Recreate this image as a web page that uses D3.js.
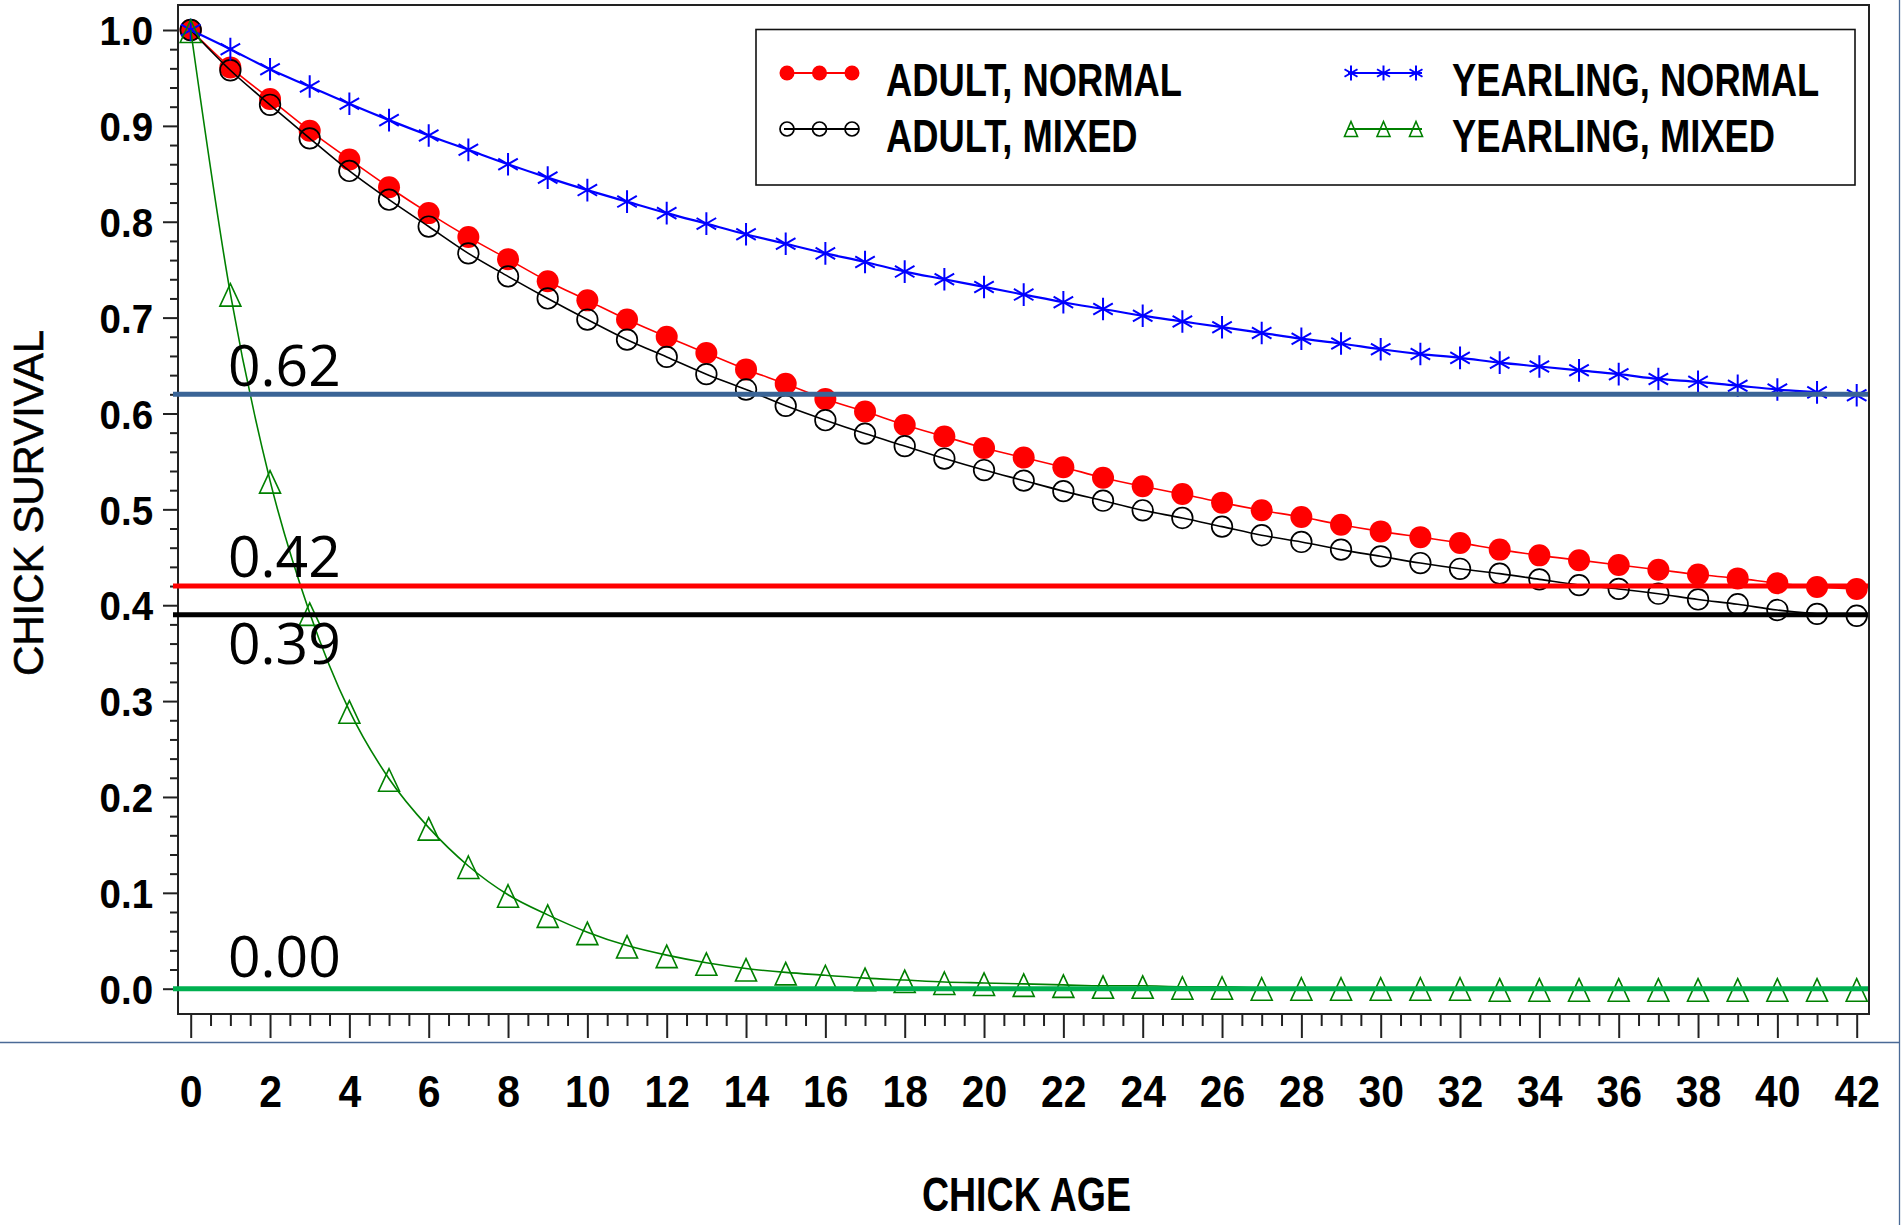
<!DOCTYPE html>
<html>
<head>
<meta charset="utf-8">
<script src="https://cdn.jsdelivr.net/npm/d3@7"></script>
<style>
  html, body { margin: 0; padding: 0; background: #ffffff; }
  svg { display: block; }
</style>
</head>
<body>
<svg id="chart" width="1902" height="1225"></svg>
<script>
// ---- data -------------------------------------------------------------
const ages = [0, 1, 2, 3, 4, 5, 6, 7, 8, 9, 10, 11, 12, 13, 14, 15, 16, 17, 18, 19, 20,
              21, 22, 23, 24, 25, 26, 27, 28, 29, 30, 31, 32, 33, 34, 35, 36, 37, 38, 39, 40, 41, 42];

const adultNormal = [1.000, 0.961, 0.928, 0.895, 0.865, 0.836, 0.809, 0.784, 0.761, 0.738, 0.718,
                     0.698, 0.680, 0.663, 0.646, 0.631, 0.615, 0.602, 0.588, 0.576, 0.564,
                     0.554, 0.544, 0.533, 0.524, 0.516, 0.507, 0.499, 0.492, 0.484, 0.477,
                     0.471, 0.465, 0.458, 0.452, 0.447, 0.442, 0.437, 0.432, 0.428, 0.423, 0.419, 0.417];

const adultMixed = [1.000, 0.958, 0.922, 0.887, 0.853, 0.823, 0.795, 0.767, 0.743, 0.720, 0.698,
                    0.677, 0.659, 0.641, 0.625, 0.608, 0.593, 0.579, 0.566, 0.553, 0.541,
                    0.530, 0.519, 0.509, 0.499, 0.491, 0.482, 0.473, 0.466, 0.458, 0.451,
                    0.444, 0.438, 0.433, 0.427, 0.421, 0.417, 0.412, 0.406, 0.401, 0.395, 0.391, 0.389];

const yearlingNormal = [1.000, 0.980, 0.959, 0.941, 0.923, 0.906, 0.890, 0.875, 0.860, 0.846, 0.833,
                        0.821, 0.809, 0.798, 0.787, 0.777, 0.767, 0.758, 0.748, 0.740, 0.732,
                        0.724, 0.716, 0.709, 0.702, 0.696, 0.690, 0.684, 0.678, 0.673, 0.667,
                        0.662, 0.658, 0.653, 0.649, 0.645, 0.641, 0.636, 0.633, 0.629, 0.625, 0.622, 0.619];

const yearlingMixed = [1.000, 0.725, 0.530, 0.392, 0.290, 0.219, 0.168, 0.128, 0.098, 0.077, 0.059,
                       0.045, 0.035, 0.027, 0.021, 0.017, 0.014, 0.011, 0.009, 0.007, 0.006,
                       0.005, 0.004, 0.003, 0.003, 0.002, 0.002, 0.001, 0.001, 0.001, 0.001,
                       0.001, 0.001, 0.000, 0.000, 0.000, 0.000, 0.000, 0.000, 0.000, 0.000, 0.000, 0.000];

const seriesNames = ["ADULT, NORMAL", "ADULT, MIXED", "YEARLING, NORMAL", "YEARLING, MIXED"];

const yMajorTicks = [0.0, 0.1, 0.2, 0.3, 0.4, 0.5, 0.6, 0.7, 0.8, 0.9, 1.0];
const xMajorTicks = [0, 2, 4, 6, 8, 10, 12, 14, 16, 18, 20, 22, 24, 26, 28, 30, 32, 34, 36, 38, 40, 42];

// final-age survival reference levels and their printed labels
const refValues = [0.62, 0.42, 0.39, 0.00];
const refLabels = ["0.62", "0.42", "0.39", "0.00"];

const xTitle = "CHICK AGE";
const yTitle = "CHICK SURVIVAL";

// ---- layout & styles ----------------------------------------------------
const frame = { left: 178, right: 1869, top: 5, bottom: 1014 };
const boldFont = "'Liberation Sans', Arial, Helvetica, sans-serif";

const seriesStyles = [
  { color: "#ff0000", width: 1.6, marker: "dot" },
  { color: "#000000", width: 1.6, marker: "circle" },
  { color: "#0000ff", width: 2.2, marker: "star" },
  { color: "#008000", width: 1.6, marker: "triangle" }
];
const refStyles = [
  { color: "#3a6496", labelDy: -8 },
  { color: "#ff0000", labelDy: -9 },
  { color: "#000000", labelDy: 49 },
  { color: "#00b050", labelDy: -12 }
];

const svg = d3.select("#chart");

const x = d3.scaleLinear().domain([0, 42]).range([190.7, 1856.7]);
const y = d3.scaleLinear().domain([0, 1]).range([988.7, 30]);

// ---- axes ---------------------------------------------------------------
function condensed(sel, sx) {
  sel.attr("transform", `scale(${sx},1)`);
}

// y axis: majors every 0.1, minors every 0.02
const yMinor = d3.range(0, 1.0001, 0.02).filter(v => Math.abs(v * 10 - Math.round(v * 10)) > 1e-6);
svg.append("g")
  .attr("transform", `translate(${frame.left},0)`)
  .call(d3.axisLeft(y).tickValues(yMinor).tickSize(8).tickFormat(""))
  .call(g => g.select(".domain").remove())
  .call(g => g.selectAll("line").attr("stroke", "#222").attr("stroke-width", 2));

const yAxisG = svg.append("g")
  .attr("transform", `translate(${frame.left},0)`)
  .call(d3.axisLeft(y).tickValues(yMajorTicks).tickSize(15).tickFormat(d3.format(".1f")))
  .call(g => g.select(".domain").remove())
  .call(g => g.selectAll("line").attr("stroke", "#222").attr("stroke-width", 2));
yAxisG.selectAll("text")
  .attr("x", -26.5)
  .attr("dy", "0.36em")
  .attr("fill", "#000")
  .style("font-family", boldFont)
  .style("font-weight", "bold")
  .style("font-size", "41px")
  .call(condensed, 0.94);

// x axis: majors every 2, minors every 0.5
const xMinor = d3.range(0, 42.0001, 0.5).filter(v => v % 2 !== 0);
svg.append("g")
  .attr("transform", `translate(0,${frame.bottom})`)
  .call(d3.axisBottom(x).tickValues(xMinor).tickSize(12).tickFormat(""))
  .call(g => g.select(".domain").remove())
  .call(g => g.selectAll("line").attr("stroke", "#222").attr("stroke-width", 2));

const xAxisG = svg.append("g")
  .attr("transform", `translate(0,${frame.bottom})`)
  .call(d3.axisBottom(x).tickValues(xMajorTicks).tickSize(24).tickFormat(d3.format("d")))
  .call(g => g.select(".domain").remove())
  .call(g => g.selectAll("line").attr("stroke", "#222").attr("stroke-width", 2));
xAxisG.selectAll("text")
  .attr("y", 93)
  .attr("dy", 0)
  .attr("fill", "#000")
  .style("font-family", boldFont)
  .style("font-weight", "bold")
  .style("font-size", "44px")
  .call(condensed, 0.93);

// plot frame
svg.append("rect")
  .attr("x", frame.left).attr("y", frame.top)
  .attr("width", frame.right - frame.left).attr("height", frame.bottom - frame.top)
  .attr("fill", "none").attr("stroke", "#222").attr("stroke-width", 2);

// axis titles
svg.append("text")
  .attr("transform", `translate(43,503) rotate(-90)`)
  .attr("text-anchor", "middle")
  .style("font-family", boldFont)
  .style("font-size", "42px")
  .attr("fill", "#000")
  .attr("stroke", "#000")
  .attr("stroke-width", 0.6)
  .text(yTitle);

svg.append("text")
  .attr("transform", `translate(1026.5,1210.5) scale(0.79,1)`)
  .attr("text-anchor", "middle")
  .style("font-family", boldFont)
  .style("font-weight", "bold")
  .style("font-size", "47.5px")
  .attr("fill", "#000")
  .text(xTitle);

// ---- series -------------------------------------------------------------
const seriesData = [adultNormal, adultMixed, yearlingNormal, yearlingMixed];

const c30 = Math.cos(Math.PI / 6), s30 = 0.5;
function starPath(r) {
  return `M0,${-r}L0,${r}M${-r * c30},${-r * s30}L${r * c30},${r * s30}` +
         `M${-r * c30},${r * s30}L${r * c30},${-r * s30}`;
}
function trianglePath(w, up, down) {
  return `M0,${-up}L${w},${down}L${-w},${down}Z`;
}

function drawMarker(sel, kind, color, big) {
  if (kind === "dot") {
    sel.append("circle").attr("r", big ? 11 : 7.5).attr("fill", color);
  } else if (kind === "circle") {
    sel.append("circle").attr("r", big ? 10.3 : 7).attr("fill", "none")
      .attr("stroke", color).attr("stroke-width", 1.7);
  } else if (kind === "star") {
    sel.append("path").attr("d", starPath(big ? 11.3 : 7.5)).attr("fill", "none")
      .attr("stroke", color).attr("stroke-width", 2);
  } else {
    sel.append("path").attr("d", big ? trianglePath(10.5, 10, 12.5) : trianglePath(6.5, 7.5, 7.5))
      .attr("fill", "none").attr("stroke", color).attr("stroke-width", 1.6);
  }
}

const line = d3.line()
  .x((d, i) => x(ages[i]))
  .y(d => y(d))
  .curve(d3.curveMonotoneX);

seriesData.forEach((vals, k) => {
  const st = seriesStyles[k];
  const g = svg.append("g").attr("class", "series");
  g.append("path")
    .attr("d", line(vals))
    .attr("fill", "none")
    .attr("stroke", st.color)
    .attr("stroke-width", st.width);
  g.selectAll("g.pt")
    .data(vals)
    .join("g")
    .attr("class", "pt")
    .attr("transform", (d, i) => `translate(${x(ages[i])},${y(d)})`)
    .each(function () { drawMarker(d3.select(this), st.marker, st.color, true); });
});

// ---- reference levels ---------------------------------------------------
refValues.forEach((v, k) => {
  svg.append("line")
    .attr("x1", frame.left - 5).attr("x2", frame.right - 1)
    .attr("y1", y(v)).attr("y2", y(v))
    .attr("stroke", refStyles[k].color)
    .attr("stroke-width", 5);
});
refValues.forEach((v, k) => {
  svg.append("text")
    .attr("x", 228)
    .attr("y", y(v) + refStyles[k].labelDy)
    .style("font-family", "'Open Sans', 'Noto Sans', sans-serif")
    .style("font-size", "57px")
    .attr("fill", "#000")
    .text(refLabels[k]);
});

// ---- legend -------------------------------------------------------------
const legend = svg.append("g");
legend.append("rect")
  .attr("x", 756).attr("y", 29.5)
  .attr("width", 1099).attr("height", 155.5)
  .attr("fill", "#fff").attr("stroke", "#111").attr("stroke-width", 1.6);

const legendPos = [
  { sx: 787, tx: 886, ly: 73, ty: 96 },
  { sx: 787, tx: 886, ly: 129, ty: 152 },
  { sx: 1351, tx: 1452, ly: 73, ty: 96 },
  { sx: 1351, tx: 1452, ly: 129, ty: 152 }
];
seriesNames.forEach((name, k) => {
  const p = legendPos[k], st = seriesStyles[k];
  const sample = legend.append("g");
  sample.append("line")
    .attr("x1", p.sx - 3).attr("x2", p.sx + 71)
    .attr("y1", p.ly).attr("y2", p.ly)
    .attr("stroke", st.color).attr("stroke-width", 2);
  [0, 1, 2].forEach(j => {
    const m = sample.append("g").attr("transform", `translate(${p.sx + j * 32.5},${p.ly})`);
    drawMarker(m, st.marker, st.color, false);
  });
  legend.append("text")
    .attr("transform", `translate(${p.tx},${p.ty}) scale(0.79,1)`)
    .style("font-family", boldFont)
    .style("font-weight", "bold")
    .style("font-size", "46px")
    .attr("fill", "#000")
    .text(name);
});

// ---- outer page rules -----------------------------------------------------
svg.append("line")
  .attr("x1", 0).attr("x2", 1899.5).attr("y1", 1042.5).attr("y2", 1042.5)
  .attr("stroke", "#4a6a96").attr("stroke-width", 1.3);
svg.append("line")
  .attr("x1", 1899.5).attr("x2", 1899.5).attr("y1", 0).attr("y2", 1225)
  .attr("stroke", "#4a6a96").attr("stroke-width", 1.3);
</script>
</body>
</html>
